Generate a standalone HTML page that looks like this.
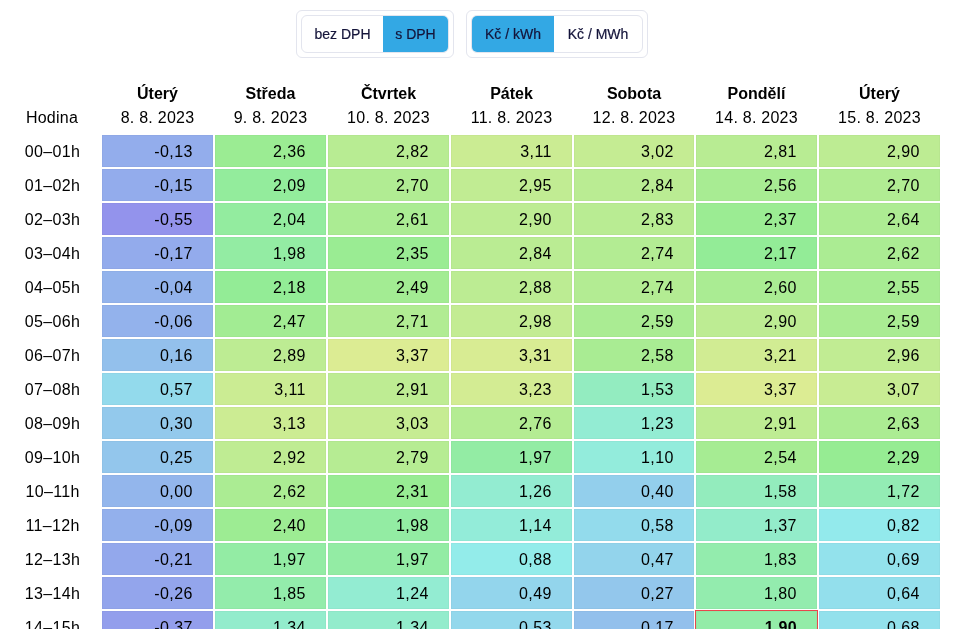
<!DOCTYPE html>
<html lang="cs"><head><meta charset="utf-8"><title>Spotové ceny elektřiny</title>
<style>
html,body{margin:0;padding:0;background:#fff;}
body{width:964px;height:629px;overflow:hidden;position:relative;font-family:"Liberation Sans",sans-serif;font-size:16px;color:#000;}
.card{position:absolute;top:10px;height:46px;border:1px solid #e3e5ee;border-radius:6px;background:#fff;box-sizing:content-box;}
.seg{position:absolute;top:4px;left:4px;height:36px;border:1px solid #e3e5ee;border-radius:6px;overflow:hidden;display:flex;}
.seg span{display:block;height:36px;line-height:37px;font-size:14px;color:#14143a;text-align:center;-webkit-text-stroke:.2px #14143a;}
.seg span.on{background:#33a8e4;}
.hd{position:absolute;text-align:center;white-space:nowrap;}
.hd b{display:block;height:24px;line-height:24px;font-weight:700;}
.hd i{display:block;height:24px;line-height:24px;font-style:normal;letter-spacing:.25px;}
.rl{letter-spacing:.35px;position:absolute;left:2.6px;width:100px;text-align:center;height:32px;line-height:33px;white-space:nowrap;}
.c{position:absolute;height:32px;line-height:33px;text-align:right;box-sizing:border-box;padding-right:20.2px;letter-spacing:.4px;box-shadow:inset 0 0 0 1px rgba(0,0,0,.022);}
.c.now{font-weight:700;letter-spacing:.2px;outline:1px solid #e8484c;z-index:2;}
</style></head><body>
<div class="card" style="left:296px;width:156px"><div class="seg" style="width:146px"><span style="width:81px">bez DPH</span><span class="on" style="width:65px">s DPH</span></div></div>
<div class="card" style="left:466px;width:180px"><div class="seg" style="width:170px"><span class="on" style="width:82px">Kč / kWh</span><span style="width:88px">Kč / MWh</span></div></div>
<div class="hd" style="left:2px;width:100px;top:106px"><i>Hodina</i></div>
<div class="hd" style="left:102px;width:111px;top:82px"><b>Úterý</b><i>8. 8. 2023</i></div>
<div class="hd" style="left:215px;width:111px;top:82px"><b>Středa</b><i>9. 8. 2023</i></div>
<div class="hd" style="left:328px;width:121px;top:82px"><b>Čtvrtek</b><i>10. 8. 2023</i></div>
<div class="hd" style="left:451px;width:121px;top:82px"><b>Pátek</b><i>11. 8. 2023</i></div>
<div class="hd" style="left:574px;width:120px;top:82px"><b>Sobota</b><i>12. 8. 2023</i></div>
<div class="hd" style="left:696px;width:121px;top:82px"><b>Pondělí</b><i>14. 8. 2023</i></div>
<div class="hd" style="left:819px;width:121px;top:82px"><b>Úterý</b><i>15. 8. 2023</i></div>
<div class="rl" style="top:135px">00–01h</div>
<div class="c" style="left:102px;top:135px;width:111px;background:hsl(222.1,70%,75%)">-0,13</div>
<div class="c" style="left:215px;top:135px;width:111px;background:hsl(114.5,70%,75%)">2,36</div>
<div class="c" style="left:328px;top:135px;width:121px;background:hsl(94.7,70%,75%)">2,82</div>
<div class="c" style="left:451px;top:135px;width:121px;background:hsl(82.1,70%,75%)">3,11</div>
<div class="c" style="left:574px;top:135px;width:120px;background:hsl(86.0,70%,75%)">3,02</div>
<div class="c" style="left:696px;top:135px;width:121px;background:hsl(95.1,70%,75%)">2,81</div>
<div class="c" style="left:819px;top:135px;width:121px;background:hsl(91.2,70%,75%)">2,90</div>
<div class="rl" style="top:169px">01–02h</div>
<div class="c" style="left:102px;top:169px;width:111px;background:hsl(223.0,70%,75%)">-0,15</div>
<div class="c" style="left:215px;top:169px;width:111px;background:hsl(126.2,70%,75%)">2,09</div>
<div class="c" style="left:328px;top:169px;width:121px;background:hsl(99.9,70%,75%)">2,70</div>
<div class="c" style="left:451px;top:169px;width:121px;background:hsl(89.1,70%,75%)">2,95</div>
<div class="c" style="left:574px;top:169px;width:120px;background:hsl(93.8,70%,75%)">2,84</div>
<div class="c" style="left:696px;top:169px;width:121px;background:hsl(105.9,70%,75%)">2,56</div>
<div class="c" style="left:819px;top:169px;width:121px;background:hsl(99.9,70%,75%)">2,70</div>
<div class="rl" style="top:203px">02–03h</div>
<div class="c" style="left:102px;top:203px;width:111px;background:hsl(240.3,70%,75%)">-0,55</div>
<div class="c" style="left:215px;top:203px;width:111px;background:hsl(128.4,70%,75%)">2,04</div>
<div class="c" style="left:328px;top:203px;width:121px;background:hsl(103.7,70%,75%)">2,61</div>
<div class="c" style="left:451px;top:203px;width:121px;background:hsl(91.2,70%,75%)">2,90</div>
<div class="c" style="left:574px;top:203px;width:120px;background:hsl(94.2,70%,75%)">2,83</div>
<div class="c" style="left:696px;top:203px;width:121px;background:hsl(114.1,70%,75%)">2,37</div>
<div class="c" style="left:819px;top:203px;width:121px;background:hsl(102.5,70%,75%)">2,64</div>
<div class="rl" style="top:237px">03–04h</div>
<div class="c" style="left:102px;top:237px;width:111px;background:hsl(223.8,70%,75%)">-0,17</div>
<div class="c" style="left:215px;top:237px;width:111px;background:hsl(131.0,70%,75%)">1,98</div>
<div class="c" style="left:328px;top:237px;width:121px;background:hsl(115.0,70%,75%)">2,35</div>
<div class="c" style="left:451px;top:237px;width:121px;background:hsl(93.8,70%,75%)">2,84</div>
<div class="c" style="left:574px;top:237px;width:120px;background:hsl(98.1,70%,75%)">2,74</div>
<div class="c" style="left:696px;top:237px;width:121px;background:hsl(122.8,70%,75%)">2,17</div>
<div class="c" style="left:819px;top:237px;width:121px;background:hsl(103.3,70%,75%)">2,62</div>
<div class="rl" style="top:271px">04–05h</div>
<div class="c" style="left:102px;top:271px;width:111px;background:hsl(218.2,70%,75%)">-0,04</div>
<div class="c" style="left:215px;top:271px;width:111px;background:hsl(122.3,70%,75%)">2,18</div>
<div class="c" style="left:328px;top:271px;width:121px;background:hsl(108.9,70%,75%)">2,49</div>
<div class="c" style="left:451px;top:271px;width:121px;background:hsl(92.1,70%,75%)">2,88</div>
<div class="c" style="left:574px;top:271px;width:120px;background:hsl(98.1,70%,75%)">2,74</div>
<div class="c" style="left:696px;top:271px;width:121px;background:hsl(104.2,70%,75%)">2,60</div>
<div class="c" style="left:819px;top:271px;width:121px;background:hsl(106.3,70%,75%)">2,55</div>
<div class="rl" style="top:305px">05–06h</div>
<div class="c" style="left:102px;top:305px;width:111px;background:hsl(219.1,70%,75%)">-0,06</div>
<div class="c" style="left:215px;top:305px;width:111px;background:hsl(109.8,70%,75%)">2,47</div>
<div class="c" style="left:328px;top:305px;width:121px;background:hsl(99.4,70%,75%)">2,71</div>
<div class="c" style="left:451px;top:305px;width:121px;background:hsl(87.8,70%,75%)">2,98</div>
<div class="c" style="left:574px;top:305px;width:120px;background:hsl(104.6,70%,75%)">2,59</div>
<div class="c" style="left:696px;top:305px;width:121px;background:hsl(91.2,70%,75%)">2,90</div>
<div class="c" style="left:819px;top:305px;width:121px;background:hsl(104.6,70%,75%)">2,59</div>
<div class="rl" style="top:339px">06–07h</div>
<div class="c" style="left:102px;top:339px;width:111px;background:hsl(209.6,70%,75%)">0,16</div>
<div class="c" style="left:215px;top:339px;width:111px;background:hsl(91.7,70%,75%)">2,89</div>
<div class="c" style="left:328px;top:339px;width:121px;background:hsl(70.9,70%,75%)">3,37</div>
<div class="c" style="left:451px;top:339px;width:121px;background:hsl(73.5,70%,75%)">3,31</div>
<div class="c" style="left:574px;top:339px;width:120px;background:hsl(105.0,70%,75%)">2,58</div>
<div class="c" style="left:696px;top:339px;width:121px;background:hsl(77.8,70%,75%)">3,21</div>
<div class="c" style="left:819px;top:339px;width:121px;background:hsl(88.6,70%,75%)">2,96</div>
<div class="rl" style="top:373px">07–08h</div>
<div class="c" style="left:102px;top:373px;width:111px;background:hsl(191.9,70%,75%)">0,57</div>
<div class="c" style="left:215px;top:373px;width:111px;background:hsl(82.1,70%,75%)">3,11</div>
<div class="c" style="left:328px;top:373px;width:121px;background:hsl(90.8,70%,75%)">2,91</div>
<div class="c" style="left:451px;top:373px;width:121px;background:hsl(77.0,70%,75%)">3,23</div>
<div class="c" style="left:574px;top:373px;width:120px;background:hsl(150.4,70%,75%)">1,53</div>
<div class="c" style="left:696px;top:373px;width:121px;background:hsl(70.9,70%,75%)">3,37</div>
<div class="c" style="left:819px;top:373px;width:121px;background:hsl(83.9,70%,75%)">3,07</div>
<div class="rl" style="top:407px">08–09h</div>
<div class="c" style="left:102px;top:407px;width:111px;background:hsl(203.5,70%,75%)">0,30</div>
<div class="c" style="left:215px;top:407px;width:111px;background:hsl(81.3,70%,75%)">3,13</div>
<div class="c" style="left:328px;top:407px;width:121px;background:hsl(85.6,70%,75%)">3,03</div>
<div class="c" style="left:451px;top:407px;width:121px;background:hsl(97.3,70%,75%)">2,76</div>
<div class="c" style="left:574px;top:407px;width:120px;background:hsl(163.4,70%,75%)">1,23</div>
<div class="c" style="left:696px;top:407px;width:121px;background:hsl(90.8,70%,75%)">2,91</div>
<div class="c" style="left:819px;top:407px;width:121px;background:hsl(102.9,70%,75%)">2,63</div>
<div class="rl" style="top:441px">09–10h</div>
<div class="c" style="left:102px;top:441px;width:111px;background:hsl(205.7,70%,75%)">0,25</div>
<div class="c" style="left:215px;top:441px;width:111px;background:hsl(90.4,70%,75%)">2,92</div>
<div class="c" style="left:328px;top:441px;width:121px;background:hsl(96.0,70%,75%)">2,79</div>
<div class="c" style="left:451px;top:441px;width:121px;background:hsl(131.4,70%,75%)">1,97</div>
<div class="c" style="left:574px;top:441px;width:120px;background:hsl(169.0,70%,75%)">1,10</div>
<div class="c" style="left:696px;top:441px;width:121px;background:hsl(106.8,70%,75%)">2,54</div>
<div class="c" style="left:819px;top:441px;width:121px;background:hsl(117.6,70%,75%)">2,29</div>
<div class="rl" style="top:475px">10–11h</div>
<div class="c" style="left:102px;top:475px;width:111px;background:hsl(216.5,70%,75%)">0,00</div>
<div class="c" style="left:215px;top:475px;width:111px;background:hsl(103.3,70%,75%)">2,62</div>
<div class="c" style="left:328px;top:475px;width:121px;background:hsl(116.7,70%,75%)">2,31</div>
<div class="c" style="left:451px;top:475px;width:121px;background:hsl(162.1,70%,75%)">1,26</div>
<div class="c" style="left:574px;top:475px;width:120px;background:hsl(199.2,70%,75%)">0,40</div>
<div class="c" style="left:696px;top:475px;width:121px;background:hsl(148.2,70%,75%)">1,58</div>
<div class="c" style="left:819px;top:475px;width:121px;background:hsl(142.2,70%,75%)">1,72</div>
<div class="rl" style="top:509px">11–12h</div>
<div class="c" style="left:102px;top:509px;width:111px;background:hsl(220.4,70%,75%)">-0,09</div>
<div class="c" style="left:215px;top:509px;width:111px;background:hsl(112.8,70%,75%)">2,40</div>
<div class="c" style="left:328px;top:509px;width:121px;background:hsl(131.0,70%,75%)">1,98</div>
<div class="c" style="left:451px;top:509px;width:121px;background:hsl(167.3,70%,75%)">1,14</div>
<div class="c" style="left:574px;top:509px;width:120px;background:hsl(191.4,70%,75%)">0,58</div>
<div class="c" style="left:696px;top:509px;width:121px;background:hsl(157.3,70%,75%)">1,37</div>
<div class="c" style="left:819px;top:509px;width:121px;background:hsl(181.1,70%,75%)">0,82</div>
<div class="rl" style="top:543px">12–13h</div>
<div class="c" style="left:102px;top:543px;width:111px;background:hsl(225.6,70%,75%)">-0,21</div>
<div class="c" style="left:215px;top:543px;width:111px;background:hsl(131.4,70%,75%)">1,97</div>
<div class="c" style="left:328px;top:543px;width:121px;background:hsl(131.4,70%,75%)">1,97</div>
<div class="c" style="left:451px;top:543px;width:121px;background:hsl(178.5,70%,75%)">0,88</div>
<div class="c" style="left:574px;top:543px;width:120px;background:hsl(196.2,70%,75%)">0,47</div>
<div class="c" style="left:696px;top:543px;width:121px;background:hsl(137.4,70%,75%)">1,83</div>
<div class="c" style="left:819px;top:543px;width:121px;background:hsl(186.7,70%,75%)">0,69</div>
<div class="rl" style="top:577px">13–14h</div>
<div class="c" style="left:102px;top:577px;width:111px;background:hsl(227.7,70%,75%)">-0,26</div>
<div class="c" style="left:215px;top:577px;width:111px;background:hsl(136.6,70%,75%)">1,85</div>
<div class="c" style="left:328px;top:577px;width:121px;background:hsl(162.9,70%,75%)">1,24</div>
<div class="c" style="left:451px;top:577px;width:121px;background:hsl(195.3,70%,75%)">0,49</div>
<div class="c" style="left:574px;top:577px;width:120px;background:hsl(204.8,70%,75%)">0,27</div>
<div class="c" style="left:696px;top:577px;width:121px;background:hsl(138.7,70%,75%)">1,80</div>
<div class="c" style="left:819px;top:577px;width:121px;background:hsl(188.9,70%,75%)">0,64</div>
<div class="rl" style="top:611px">14–15h</div>
<div class="c" style="left:102px;top:611px;width:111px;background:hsl(232.5,70%,75%)">-0,37</div>
<div class="c" style="left:215px;top:611px;width:111px;background:hsl(158.6,70%,75%)">1,34</div>
<div class="c" style="left:328px;top:611px;width:121px;background:hsl(158.6,70%,75%)">1,34</div>
<div class="c" style="left:451px;top:611px;width:121px;background:hsl(193.6,70%,75%)">0,53</div>
<div class="c" style="left:574px;top:611px;width:120px;background:hsl(209.2,70%,75%)">0,17</div>
<div class="c now" style="left:696px;top:611px;width:121px;background:hsl(134.4,70%,75%)">1,90</div>
<div class="c" style="left:819px;top:611px;width:121px;background:hsl(187.1,70%,75%)">0,68</div>
</body></html>
